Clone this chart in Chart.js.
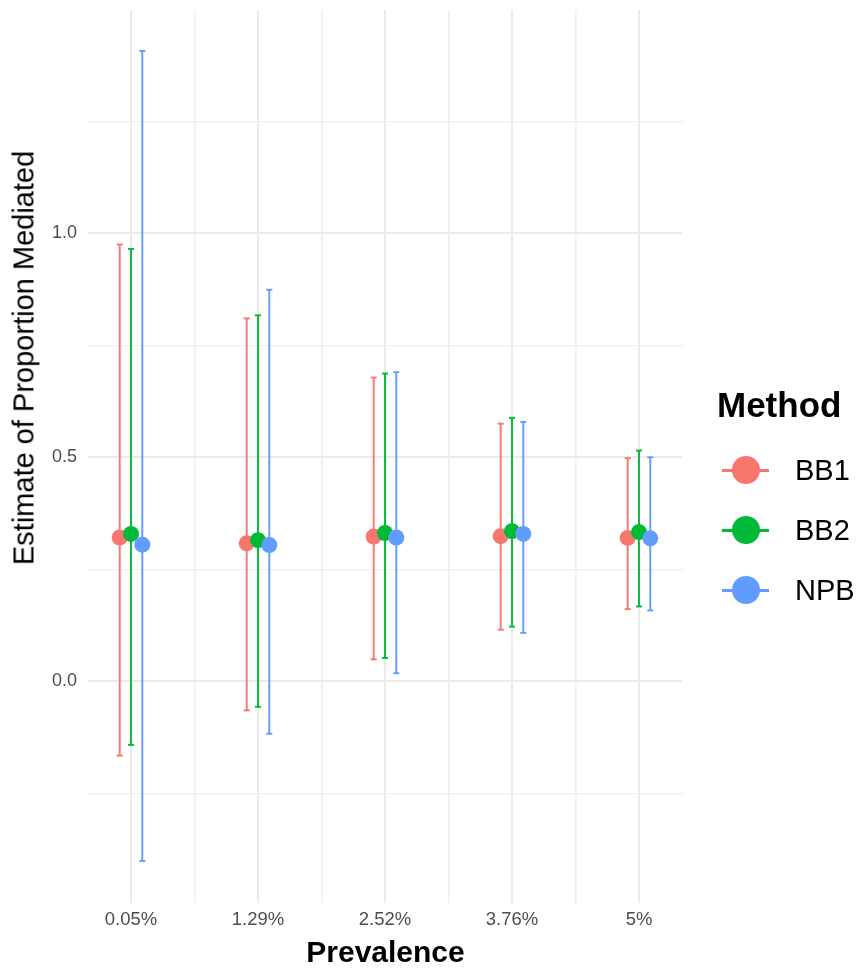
<!DOCTYPE html>
<html>
<head>
<meta charset="utf-8">
<title>Estimate of Proportion Mediated by Prevalence</title>
<script src="https://cdn.jsdelivr.net/npm/chart.js@4.4.1/dist/chart.umd.min.js"></script>
<style>
  html, body { margin: 0; padding: 0; background: #ffffff; }
  #wrap { position: relative; width: 859px; height: 969px; background: #ffffff;
          font-family: "Liberation Sans", Arial, Helvetica, sans-serif; color: #000; }
  #chart { position: absolute; left: 0; top: 0; }
  #ytitle { position: absolute; left: 23.6px; top: 358px; white-space: nowrap;
            font-size: 29px; line-height: 29px;
            transform: translate(-50%, -50%) rotate(-90deg); }
  #legend-title { position: absolute; left: 717px; top: 387px; font-size: 35px;
                  line-height: 35px; font-weight: bold; white-space: nowrap; }
  .legend-item { position: absolute; left: 722px; height: 30px; display: flex; align-items: center; }
  .key { position: relative; width: 47px; height: 30px; }
  .key .ln { position: absolute; left: 0; right: 0; top: 13.5px; height: 3px; }
  .key .dot { position: absolute; left: 9.5px; top: 1px; width: 28px; height: 28px; border-radius: 50%; }
  .legend-item .lbl { margin-left: 26px; font-size: 29px; line-height: 29px; white-space: nowrap; }
</style>
</head>
<body>
<div id="wrap">
  <canvas id="chart" width="859" height="969"></canvas>
  <div id="ytitle">Estimate of Proportion Mediated</div>
  <div id="legend-title">Method</div>
  <div id="legend"></div>
</div>
<script>
// Prevalence levels on the x axis
const categories = ['0.05%', '1.29%', '2.52%', '3.76%', '5%'];

// Point estimates and interval bounds for each method
const bb1Est = [0.321, 0.308, 0.323, 0.324, 0.320];
const bb1Lo  = [-0.166, -0.065, 0.049, 0.115, 0.161];
const bb1Hi  = [0.975, 0.810, 0.678, 0.575, 0.498];

const bb2Est = [0.329, 0.315, 0.331, 0.335, 0.333];
const bb2Lo  = [-0.142, -0.057, 0.052, 0.122, 0.167];
const bb2Hi  = [0.965, 0.817, 0.687, 0.588, 0.515];

const npbEst = [0.305, 0.304, 0.321, 0.329, 0.319];
const npbLo  = [-0.401, -0.117, 0.018, 0.108, 0.158];
const npbHi  = [1.407, 0.874, 0.690, 0.579, 0.500];

// Y axis: labelled ticks and the finer grid between them
const yTickValues = [0, 0.5, 1.0];
const yTickLabels = ['0.0', '0.5', '1.0'];
const yMinorValues = [-0.25, 0.25, 0.75, 1.25];

// Method styling and dodge offsets (in category units)
const methodNames = ['BB1', 'BB2', 'NPB'];
const methodColors = ['#F8766D', '#00BA38', '#619CFF'];
const dodge = [-0.089, 0, 0.089];

const series = [
  { est: bb1Est, lo: bb1Lo, hi: bb1Hi },
  { est: bb2Est, lo: bb2Lo, hi: bb2Hi },
  { est: npbEst, lo: npbLo, hi: npbHi }
];

const FONT = '"Liberation Sans", Arial, Helvetica, sans-serif';
const TICK_COLOR = '#4D4D4D';
const GRID_MAJOR = '#EBEBEB';
const GRID_MINOR = '#F0F0F0';

const datasets = [];

// Error bars: one vertical segment per category, separated by gaps, capped by 'line' points
series.forEach((s, m) => {
  const data = [];
  categories.forEach((c, i) => {
    const x = i + 1 + dodge[m];
    data.push({ x: x, y: s.lo[i] });
    data.push({ x: x, y: s.hi[i] });
    data.push({ x: x, y: null });
  });
  datasets.push({
    label: methodNames[m] + ' interval',
    data: data,
    showLine: true,
    spanGaps: false,
    borderColor: methodColors[m],
    borderWidth: 1.9,
    pointStyle: 'line',
    pointRadius: 3,
    pointBorderWidth: 1.9,
    pointBorderColor: methodColors[m],
    pointBackgroundColor: methodColors[m],
    order: 10
  });
});

// Point estimates drawn above every interval
series.forEach((s, m) => {
  datasets.push({
    label: methodNames[m],
    data: categories.map((c, i) => ({ x: i + 1 + dodge[m], y: s.est[i] })),
    showLine: false,
    pointStyle: 'circle',
    pointRadius: 8,
    pointBorderWidth: 0,
    pointBackgroundColor: methodColors[m],
    pointBorderColor: methodColors[m],
    order: 3 - m
  });
});

const xGridValues = [];
categories.forEach((c, i) => {
  xGridValues.push(i + 1);
  if (i < categories.length - 1) xGridValues.push(i + 1.5);
});
const yGridValues = yTickValues.concat(yMinorValues).sort((a, b) => a - b);

function isMajorX(v) { return Number.isInteger(v); }
function isMajorY(v) { return yTickValues.some(t => Math.abs(t - v) < 1e-9); }

// Keep the plotting area fixed: no extra room reserved for half-labels at the ends
function noEdgePadding(scale) {
  scale.paddingTop = 0;
  scale.paddingBottom = 0;
  scale.paddingLeft = 0;
  scale.paddingRight = 0;
}

new Chart(document.getElementById('chart'), {
  type: 'scatter',
  data: { datasets: datasets },
  options: {
    responsive: false,
    animation: false,
    events: [],
    layout: { padding: { top: 10, right: 176, bottom: 0, left: 0 } },
    plugins: { legend: { display: false }, tooltip: { enabled: false } },
    scales: {
      x: {
        type: 'linear',
        min: 0.6614,
        max: 5.3465,
        afterBuildTicks: (scale) => { scale.ticks = xGridValues.map(v => ({ value: v })); },
        afterFit: (scale) => { scale.height = 66; noEdgePadding(scale); },
        border: { display: false },
        grid: {
          drawTicks: false,
          color: (ctx) => (ctx.tick && isMajorX(ctx.tick.value)) ? GRID_MAJOR : GRID_MINOR,
          lineWidth: (ctx) => (ctx.tick && isMajorX(ctx.tick.value)) ? 2 : 1.6
        },
        ticks: {
          autoSkip: false,
          maxRotation: 0,
          minRotation: 0,
          padding: 6,
          color: TICK_COLOR,
          font: { family: FONT, size: 18.5 },
          callback: (v) => isMajorX(v) ? categories[v - 1] : ''
        },
        title: {
          display: true,
          text: 'Prevalence',
          color: '#000',
          font: { family: FONT, size: 30, weight: 'bold', lineHeight: 1.05 },
          padding: { top: 0, bottom: 0 }
        }
      },
      y: {
        type: 'linear',
        min: -0.4949,
        max: 1.4984,
        afterBuildTicks: (scale) => { scale.ticks = yGridValues.map(v => ({ value: v })); },
        afterFit: (scale) => { scale.width = 88; noEdgePadding(scale); },
        border: { display: false },
        grid: {
          drawTicks: false,
          color: (ctx) => (ctx.tick && isMajorY(ctx.tick.value)) ? GRID_MAJOR : GRID_MINOR,
          lineWidth: (ctx) => (ctx.tick && isMajorY(ctx.tick.value)) ? 2 : 1.3
        },
        ticks: {
          padding: 11,
          color: TICK_COLOR,
          font: { family: FONT, size: 18 },
          callback: (v) => {
            const k = yTickValues.findIndex(t => Math.abs(t - v) < 1e-9);
            return k >= 0 ? yTickLabels[k] : '';
          }
        }
      }
    }
  }
});

// Legend: line-and-dot keys for each method
const legend = document.getElementById('legend');
const legendCenters = [470, 530, 590];
methodNames.forEach((name, m) => {
  const item = document.createElement('div');
  item.className = 'legend-item';
  item.style.top = (legendCenters[m] - 15) + 'px';
  item.innerHTML =
    '<div class="key"><div class="ln" style="background:' + methodColors[m] + '"></div>' +
    '<div class="dot" style="background:' + methodColors[m] + '"></div></div>' +
    '<span class="lbl">' + name + '</span>';
  legend.appendChild(item);
});
</script>
</body>
</html>
